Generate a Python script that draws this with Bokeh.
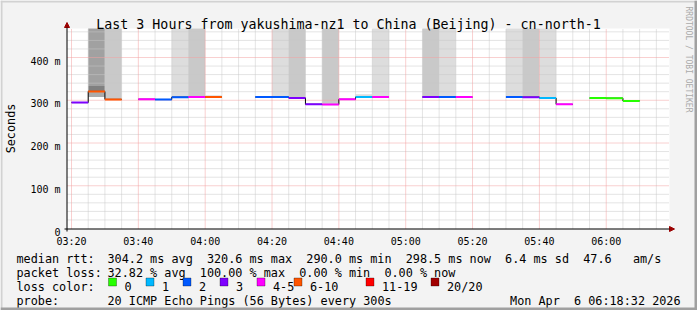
import re
import numpy as np
import pandas as pd
from bokeh.plotting import figure
from bokeh.models import (Label, Arrow, NormalHead, BoxAnnotation,
                          ColumnDataSource, Range1d)
from bokeh.core.properties import value
from bokeh.embed import file_html
from bokeh.resources import INLINE

# ---------------- data ----------------
DAY = "2026-04-06"
interval_start = pd.date_range(f"{DAY} 03:20", periods=36, freq="5min")
STEP = pd.Timedelta(minutes=5)
nan = np.nan
# median rtt per 5-minute interval (ms); NaN = 20/20 lost
median_ms = [294.6, 320.6, 302.0, nan, 302.4, 301.8, 307.3, 307.4, 307.5, nan,
             nan, 307.5, 307.5, 305.3, 290.5, 290.0, 302.2, 307.5, 307.4, nan,
             nan, 307.5, 307.5, 307.4, nan, nan, 307.6, 307.3, 305.2, 290.4,
             nan, 305.0, 304.9, 298.5, nan, nan]
# lost pings (out of 20) per interval
loss_pings = [3, 8, 7, 20, 5, 2, 2, 4, 6, 20,
              20, 2, 2, 3, 3, 5, 4, 1, 5, 20,
              20, 3, 2, 4, 20, 20, 2, 3, 1, 4,
              20, 0, 0, 0, 20, 20]
# smoke bands: interval index, low / high rtt (ms), number of pings in band
band_interval = [1, 1, 1, 2, 6, 7, 8, 12, 13, 15, 17, 18, 21, 22, 26, 27, 28]
band_lo = [307.5, 321.5, 333.5, 303.0, 308.0, 308.0, 308.0, 308.0, 306.0,
           291.0, 308.0, 308.0, 308.0, 308.0, 308.0, 308.0, 306.0]
band_hi = [319.5, 333.5, 1000.0, 1000.0, 1000.0, 1000.0, 311.5, 1000.0, 1000.0,
           1000.0, 314.0, 1000.0, 1000.0, 1000.0, 1000.0, 1000.0, 1000.0]
band_pings = [3, 5, 4, 2, 1, 2, 1, 1, 2, 2, 1, 1, 2, 1, 1, 2, 1]

loss_labels = ["0", "1", "2", "3", "4-5", "6-10", "11-19", "20/20"]
loss_upper = [0, 1, 2, 3, 5, 10, 19, 20]
loss_colors = ["#26ff00", "#00b8ff", "#0059ff", "#7e00ff", "#ff00ff",
               "#ff5500", "#ff0000", "#a10000"]

y_ticks = [0, 100, 200, 300, 400]
y_tick_labels = ["0", "100 m", "200 m", "300 m", "400 m"]
x_tick_labels = ["03:20", "03:40", "04:00", "04:20", "04:40", "05:00",
                 "05:20", "05:40", "06:00"]

title_text = "Last 3 Hours from yakushima-nz1 to China (Beijing) - cn-north-1"
stat_rtt = "304.2 ms avg  320.6 ms max  290.0 ms min  298.5 ms now  6.4 ms sd  47.6   am/s"
stat_loss = "32.82 % avg  100.00 % max  0.00 % min  0.00 % now"
probe_text = "20 ICMP Echo Pings (56 Bytes) every 300s"
stamp_text = "Mon Apr  6 06:18:32 2026"

# ---------------- geometry (canvas pixels) ----------------
FONT = "DejaVu Sans Mono"
W, H = 697, 310
PLOT_L, PLOT_R, PLOT_T, PLOT_B = 67, 669, 28, 228   # plot area edges
PX_PER_MIN = 3.342
PX_PER_MS = 0.4275
T_REF = pd.Timestamp(f"{DAY} 03:20")
T_REF_PX = 71
CHAR_W = 7.1
LEG_FS = "11.8px"


def t_at(px):
    return T_REF + pd.Timedelta(seconds=(px - T_REF_PX) / PX_PER_MIN * 60)


X_START, X_END = t_at(PLOT_L), t_at(PLOT_R)
Y_TOP = (PLOT_B - PLOT_T) / PX_PER_MS

p = figure(width=W, height=H, output_backend="svg", toolbar_location=None,
           title=None, x_axis_location=None, y_axis_location=None,
           x_range=Range1d(t_at(0), t_at(W)),
           y_range=Range1d(-(H - PLOT_B) / PX_PER_MS, PLOT_B / PX_PER_MS),
           min_border=0)
p.min_border_left = p.min_border_right = p.min_border_top = p.min_border_bottom = 0
p.background_fill_color = "#f3f3f3"
p.border_fill_color = "#f3f3f3"
p.outline_line_color = None
p.grid.visible = False

# plot canvas
p.quad(left=[X_START], right=[X_END], bottom=[0], top=[Y_TOP],
       fill_color="white", line_color=None)


def loss_color(n):
    for up, c in zip(loss_upper, loss_colors):
        if n <= up:
            return c
    return loss_colors[-1]


grey_for = {1: "#dddddd", 2: "#c9c9c9", 3: "#ababab", 4: "#a1a1a1", 5: "#808080"}

# smoke
smoke = ColumnDataSource(dict(
    left=[interval_start[i] for i in band_interval],
    right=[min(interval_start[i] + STEP, X_END) for i in band_interval],
    bottom=band_lo, top=list(np.minimum(band_hi, Y_TOP)),
    color=[grey_for[n] for n in band_pings]))
p.quad(left="left", right="right", bottom="bottom", top="top",
       fill_color="color", line_color=None, source=smoke)

# grid
major_x = [pd.Timestamp(f"{DAY} {s}") for s in x_tick_labels]
minor_x = [t for t in pd.date_range(f"{DAY} 03:20", f"{DAY} 06:15", freq="5min")
           if t not in major_x]
minor_y = [v for v in range(20, 461, 20) if v not in y_ticks]
MINOR_C, MAJOR_C = "#c8c8c8", "#f2a0a0"
p.segment(x0=minor_x, x1=minor_x, y0=0, y1=Y_TOP, line_color=MINOR_C,
          line_dash="1 1", line_width=1)
p.segment(x0=X_START, x1=X_END, y0=minor_y, y1=minor_y, line_color=MINOR_C,
          line_dash="1 1", line_width=1)
p.segment(x0=major_x, x1=major_x, y0=0, y1=Y_TOP, line_color=MAJOR_C,
          line_dash="1 1", line_width=1)
p.segment(x0=X_START, x1=X_END, y0=y_ticks[1:], y1=y_ticks[1:],
          line_color=MAJOR_C, line_dash="1 1", line_width=1)

# black median step line
lx, ly = [], []
for t, m in zip(interval_start, median_ms):
    if np.isnan(m):
        lx.append(t); ly.append(nan)
    else:
        lx += [t, t + STEP]; ly += [m, m]
p.line(lx, ly, line_color="black", line_width=1)

# coloured median by loss
valid = [i for i, m in enumerate(median_ms) if not np.isnan(m)]
seg = ColumnDataSource(dict(
    x0=[interval_start[i] for i in valid],
    x1=[interval_start[i] + STEP for i in valid],
    y=[median_ms[i] for i in valid],
    color=[loss_color(loss_pings[i]) for i in valid]))
p.segment(x0="x0", x1="x1", y0="y", y1="y", line_color="color",
          line_width=2, source=seg)

# tick labels
p.text(x=major_x, y=0, text=x_tick_labels, y_offset=13, text_align="center",
       text_baseline="alphabetic", text_font=value(FONT),
       text_font_size="10px", text_color="black")
p.text(x=X_START, y=y_ticks, text=y_tick_labels, x_offset=-7, y_offset=3.5,
       text_align="right", text_baseline="alphabetic", text_font=value(FONT),
       text_font_size="10px", text_color="black")


def sy(y):
    return H - y


# axis lines with arrows
head_c = "#9a0000"
p.add_layout(Arrow(end=NormalHead(size=5, fill_color=head_c, line_color=head_c),
                   x_start=64, y_start=sy(228.5), x_end=674, y_end=sy(228.5),
                   start_units="screen", end_units="screen",
                   line_color="black", line_width=1))
p.add_layout(Arrow(end=NormalHead(size=5, fill_color=head_c, line_color=head_c),
                   x_start=66.5, y_start=sy(231), x_end=66.5, y_end=sy(22),
                   start_units="screen", end_units="screen",
                   line_color="black", line_width=1))


def text(x, y, s, size=LEG_FS, align="left", baseline="alphabetic",
         angle=0.0, color="black"):
    p.add_layout(Label(x=x, y=sy(y), x_units="screen", y_units="screen",
                       text=s, text_font=FONT, text_font_size=size,
                       text_align=align, text_baseline=baseline, angle=angle,
                       text_color=color))


def mono(x, y, s, align="left"):
    """monospace line: runs separated by 2+ spaces keep their columns"""
    if align == "right":
        x = x - len(s) * CHAR_W
    for m in re.finditer(r"\S+(?: \S+)*", s):
        text(x + m.start() * CHAR_W, y, m.group())


text(348, 24, title_text, size="13.3px", align="center")
text(10, 128, "Seconds", align="center", baseline="middle", angle=np.pi / 2)
text(688, 59, "RRDTOOL / TOBI OETIKER", size="8px", align="center",
     baseline="middle", angle=-np.pi / 2, color="#aaaaaa")

text(16, 258.3, "median rtt:")
mono(107, 258.3, stat_rtt)
text(16, 272.3, "packet loss:")
mono(107, 272.3, stat_loss)
text(16, 286.3, "loss color:")
text(16, 300.3, "probe:")
mono(107, 300.3, probe_text)
mono(680, 300.3, stamp_text, align="right")

sw_x = [108, 145.5, 182.5, 219.5, 256.5, 293.5, 365.5, 430.5]
for xx, lab, col in zip(sw_x, loss_labels, loss_colors):
    p.add_layout(BoxAnnotation(left=xx, right=xx + 8, top=sy(277.5),
                               bottom=sy(285.5), left_units="screen",
                               right_units="screen", top_units="screen",
                               bottom_units="screen", fill_color=col,
                               fill_alpha=1, line_color="black", line_width=1))
    text(xx + 16, 286.3, lab)


# chart border shading
def band(l, r, t, b, c):
    p.add_layout(BoxAnnotation(left=l, right=r, top=sy(t), bottom=sy(b),
                               left_units="screen", right_units="screen",
                               top_units="screen", bottom_units="screen",
                               fill_color=c, fill_alpha=1, line_color=None))


band(0, W, 0, 2, "#d2d2d2")
band(0, 2, 0, H, "#d2d2d2")
band(W - 3, W, 0, H, "#a0a0a0")
band(0, W, H - 3, H, "#a0a0a0")

open("out.html", "w").write(file_html(p, INLINE))
